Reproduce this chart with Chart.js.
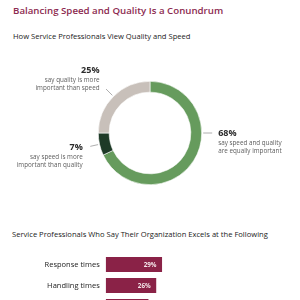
<!DOCTYPE html>
<html>
<head>
<meta charset="utf-8">
<script src="https://cdn.jsdelivr.net/npm/chart.js@4/dist/chart.umd.min.js"></script>
<style>
  html, body { margin: 0; padding: 0; background: #fff; }
  body { width: 300px; height: 300px; overflow: hidden; position: relative; font-family: "Open Sans", sans-serif; }
  .txt { position: absolute; white-space: nowrap; }
  #title { left: 13px; top: 4px; font-size: 9.7px; font-weight: 600; color: #8c2a50; }
  #sub1 { left: 13px; top: 31px; font-size: 7.6px; color: #222; }
  #sub2 { left: 12px; top: 229px; font-size: 7.6px; color: #222; }
  canvas { position: absolute; left: 0; }
  #donut { top: 50px; }
  #bars { top: 254px; }
</style>
</head>
<body>
<div class="txt" id="title">Balancing Speed and Quality Is a Conundrum</div>
<div class="txt" id="sub1">How Service Professionals View Quality and Speed</div>
<canvas id="donut" width="300" height="166"></canvas>
<div class="txt" id="sub2">Service Professionals Who Say Their Organization Excels at the Following</div>
<canvas id="bars" width="300" height="63"></canvas>
<script>
// doughnut data (clockwise from the top)
const viewShares = [68, 7, 25];
const viewLabels = [
  ["say speed and quality", "are equally important"],
  ["say speed is more", "important than quality"],
  ["say quality is more", "important than speed"],
];
const viewColors = ["#669b5d", "#1e3a27", "#c8c0ba"];

// bar data
const excelCategories = ["Response times", "Handling times", "Resolution times"];
const excelValues = [29, 26, 22];

// where each doughnut callout goes (angle clockwise from top, null = arc middle)
const callouts = [
  { angle: 90, len: 9, align: "left", dx: 6, dy: 0.5 },
  { angle: null, len: 8, align: "right", dx: -7.5, dy: 1.5 },
  { angle: null, len: 9, align: "right", dx: -6.5, dy: -18.5 },
];

const calloutPlugin = {
  id: "callouts",
  afterDatasetsDraw(chart) {
    const ctx = chart.ctx;
    const meta = chart.getDatasetMeta(0);
    meta.data.forEach((arc, i) => {
      const p = arc.getProps(["x", "y", "startAngle", "endAngle", "outerRadius"], true);
      const c = callouts[i];
      // canvas angle: 0 = 3 o'clock
      const a = c.angle === null ? (p.startAngle + p.endAngle) / 2 : (c.angle - 90) * Math.PI / 180;
      const r0 = p.outerRadius + 1.5;
      const r1 = p.outerRadius + 1.5 + c.len;
      const x0 = p.x + Math.cos(a) * r0, y0 = p.y + Math.sin(a) * r0;
      const x1 = p.x + Math.cos(a) * r1, y1 = p.y + Math.sin(a) * r1;
      ctx.save();
      ctx.strokeStyle = "#9a9a9a";
      ctx.lineWidth = 0.8;
      ctx.beginPath();
      ctx.moveTo(x0, y0);
      ctx.lineTo(x1, y1);
      ctx.stroke();
      const tx = x1 + c.dx, ty = y1 + c.dy;
      ctx.textAlign = c.align;
      ctx.textBaseline = "middle";
      ctx.fillStyle = "#2b2b2b";
      ctx.font = "700 9px 'Open Sans'";
      ctx.fillText(viewShares[i] + "%", tx, ty);
      ctx.fillStyle = "#5e5e5e";
      ctx.font = "6.3px 'Open Sans'";
      viewLabels[i].forEach((line, k) => ctx.fillText(line, tx, ty + 9.3 + k * 8));
      ctx.restore();
    });
  },
};

new Chart(document.getElementById("donut"), {
  type: "doughnut",
  data: {
    labels: viewLabels.map(l => l.join(" ")),
    datasets: [{
      data: viewShares,
      backgroundColor: viewColors,
      borderColor: "#ffffff",
      borderWidth: 0.6,
    }],
  },
  options: {
    responsive: false,
    animation: false,
    cutout: "79%",
    layout: { padding: { left: 98, right: 98, top: 31, bottom: 31 } },
    plugins: { legend: { display: false }, tooltip: { enabled: false } },
  },
  plugins: [calloutPlugin],
});

const barValuePlugin = {
  id: "barValues",
  afterDatasetsDraw(chart) {
    const ctx = chart.ctx;
    chart.getDatasetMeta(0).data.forEach((bar, i) => {
      ctx.save();
      ctx.fillStyle = "#f4e6ea";
      ctx.font = "700 6.3px 'Open Sans'";
      ctx.textAlign = "right";
      ctx.textBaseline = "middle";
      ctx.fillText(excelValues[i] + "%", bar.x - 5.5, bar.y + 0.5);
      ctx.restore();
    });
  },
};

new Chart(document.getElementById("bars"), {
  type: "bar",
  data: {
    labels: excelCategories,
    datasets: [{
      data: excelValues,
      backgroundColor: "#8a2247",
      barPercentage: 0.72,
      categoryPercentage: 1,
    }],
  },
  options: {
    indexAxis: "y",
    responsive: false,
    animation: false,
    layout: { padding: 0 },
    scales: {
      x: { display: false, min: 0, max: 100 },
      y: {
        afterFit(scale) {
          scale.width = 105.7;
          scale.paddingTop = 0;
          scale.paddingBottom = 0;
        },
        grid: { display: false, drawTicks: false },
        border: { display: false },
        ticks: { color: "#222", padding: 6, font: { family: "'Open Sans'", size: 7.5 } },
      },
    },
    plugins: { legend: { display: false }, tooltip: { enabled: false } },
  },
  plugins: [barValuePlugin],
});
</script>
</body>
</html>
